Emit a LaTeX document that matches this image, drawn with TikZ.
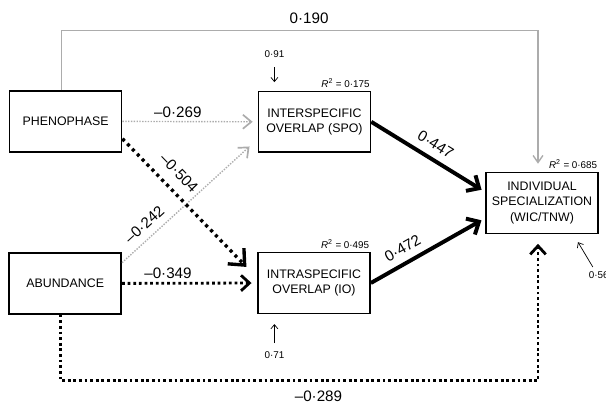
\documentclass[tikz,border=0pt]{standalone}
\usepackage{fontspec}
\setmainfont{Liberation Sans}
\usetikzlibrary{arrows.meta,positioning,calc}
\definecolor{pathgrey}{RGB}{172,172,172}

\begin{document}
\begin{tikzpicture}[
    box/.style={rectangle, draw, line width=1.2pt, minimum width=2.8cm, minimum height=1.52cm, align=center, font=\fontsize{8.8}{11}\selectfont, inner sep=2pt},
    coef/.style={text=black, font=\fontsize{10.8}{13}\selectfont, inner sep=2pt},
    small/.style={font=\fontsize{7}{8}\selectfont, inner sep=1pt},
    strong/.style={line width=2.8pt, -{Straight Barb[length=7pt,width=13pt]}},
    negstrong/.style={line width=2.4pt, dash pattern=on 2.2pt off 2.8pt, -{Straight Barb[length=9pt,width=16pt]}},
    negmid/.style={line width=2pt, dash pattern=on 2pt off 2pt, -{Straight Barb[length=6pt,width=11pt]}},
    greydot/.style={pathgrey, line width=1pt, dash pattern=on 1pt off 1pt, -{Straight Barb[length=6pt,width=10pt,line width=1.2pt]}},
    greysolid/.style={pathgrey, line width=0.8pt, -{Straight Barb[length=5pt,width=7pt,line width=1pt]}},
    errarrow/.style={line width=0.5pt, -{Straight Barb[length=3pt,width=5pt]}}
]
\useasboundingbox (0,0) rectangle (15.15,10.125);

% variables
\node[box] (pheno) at (1.64,7.09) {PHENOPHASE};
\node[box] (abund) at (1.63,3.04) {ABUNDANCE};
\node[box] (inter) at (7.86,7.08) {INTERSPECIFIC\\OVERLAP (SPO)};
\node[box] (intra) at (7.85,3.05) {INTRASPECIFIC\\OVERLAP (IO)};
\node[box] (indiv) at (13.55,5.05) {INDIVIDUAL\\SPECIALIZATION\\(WIC/TNW)};

% explained variance
\node[small, above left=1pt and 0pt of inter.north east] (rInter) {\textit{R}\textsuperscript{2} = 0·175};
\node[small, above left=1pt and 0pt of intra.north east] (rIntra) {\textit{R}\textsuperscript{2} = 0·495};
\node[small, above left=1pt and 0pt of indiv.north east] (rIndiv) {\textit{R}\textsuperscript{2} = 0·685};

% error terms
\node[small] (eInter) at (6.86,8.78) {0·91};
\node[small] (eIntra) at (6.86,1.24) {0·71};
\node[small, anchor=west] (eIndiv) at (14.68,3.25) {0·56};
\coordinate (eIndivTip) at (14.45,4.07);
\draw[errarrow, shorten <=6pt, shorten >=6pt] (eInter) -- (eInter |- inter.north);
\draw[errarrow, shorten <=5pt, shorten >=7pt] (eIntra) -- (eIntra |- intra.south);
\draw[errarrow] ([xshift=4pt,yshift=2pt]eIndiv.north west) -- (eIndivTip);

% paths
\draw[greysolid, shorten >=5.7pt] ([xshift=-0.11cm]pheno.north) -- ++(0,1.5) -| node[coef, above=2pt, pos=0.26] (cTop) {0·190} ([xshift=-0.1cm]indiv.north);
\draw[negmid, shorten >=6.8pt] ([xshift=-0.11cm]abund.south) -- ++(0,-1.655) -| node[coef, below=4pt, pos=0.27] (cBottom) {–0·289} ([xshift=-0.1cm]indiv.south);

\draw[greydot, shorten >=3.5pt] (pheno.east) -- node[coef, above, pos=0.41] (cPI) {–0·269} (inter.west);
\draw[negmid, shorten >=4pt] (abund.east) -- node[coef, above, pos=0.34] (cAI) {–0·349} (intra.west);
\draw[greydot, shorten >=7.7pt] (abund.20) -- node[coef, sloped, above=3pt, pos=0.23] (cAS) {–0·242} (inter.197);
\draw[negstrong, shorten >=11pt] (pheno.-17) -- node[coef, sloped, above=5pt, pos=0.33] (cPS) {–0·504} (intra.175);

\draw[strong, shorten >=3pt] (inter.east) -- node[coef, sloped, above=3pt, pos=0.5] (cSI) {0·447} (indiv.169);
\draw[strong, shorten >=3pt] (intra.east) -- node[coef, sloped, above=3pt, pos=0.34] (cII) {0·472} (indiv.195);
\end{tikzpicture}
\end{document}
